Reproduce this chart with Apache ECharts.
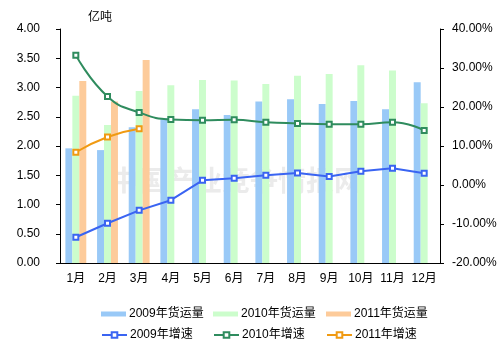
<!DOCTYPE html>
<html><head><meta charset="utf-8">
<script src="https://cdn.jsdelivr.net/npm/echarts@6/dist/echarts.min.js"></script>
<style>html,body{margin:0;padding:0;background:#fff}#c{width:503px;height:359px}</style>
</head><body><div id="c"></div>
<script>
const months = ['1月','2月','3月','4月','5月','6月','7月','8月','9月','10月','11月','12月'];
const vol2009 = [1.96,1.93,2.32,2.48,2.63,2.53,2.76,2.80,2.72,2.77,2.63,3.09];
const vol2010 = [2.86,2.36,2.94,3.04,3.13,3.12,3.06,3.20,3.23,3.38,3.29,2.73];
const vol2011 = [3.11,2.76,3.47,null,null,null,null,null,null,null,null,null];
const g2009 = [-13.4,-9.8,-6.5,-3.9,1.2,1.7,2.5,3.1,2.2,3.5,4.3,3.0];
const g2010 = [33.3,22.7,18.6,16.8,16.6,16.7,16.1,15.8,15.6,15.6,16.1,14.0];
const g2011 = [8.4,12.3,14.4,null,null,null,null,null,null,null,null,null];
const leftTicks = {min:0,max:4,interval:0.5};
const rightTicks = {min:-20,max:40,interval:10};

const font = '"Liberation Sans", "Noto Sans CJK SC", sans-serif';
const cBlue='#99c9f7', cGreen='#ccfdcc', cOrange='#fdcb9a';
const lBlue='#3a64f2', lGreen='#2f8c5e', lOrange='#f09a12';
const chart = echarts.init(document.getElementById('c'));
function bar(name,data,color){return {name,type:'bar',data,yAxisIndex:0,barGap:'0%',barCategoryGap:'34%',itemStyle:{color}};}
function line(name,data,color,smooth){return {name,type:'line',data,yAxisIndex:1,smooth,symbol:'emptyRect',symbolSize:5,showAllSymbol:true,lineStyle:{color,width:2},itemStyle:{color,borderColor:color,borderWidth:1.2},z:5};}
const txt={color:'#000',fontSize:12,fontFamily:font};
function leg(name,left,top,isBar){
  return {data:[name],left,top,itemWidth:25,itemHeight:isBar?5:7,itemGap:0,textStyle:{...txt,padding:[0,0,0,-2]},
    icon: isBar?'rect':undefined, selectedMode:false};
}
chart.setOption({
  animation:false,
  grid:{left:60,right:63,top:29,bottom:96},
  graphic:[{type:'text',left:110,top:166,z:0,style:{text:'中国产业竞争情报网',fontSize:28,fontWeight:'bold',fill:'rgba(190,190,190,0.3)',fontFamily:'"Noto Sans CJK SC"',letterSpacing:4}}],
  legend:[
    leg('2009年货运量',96,303,true),leg('2010年货运量',208,303,true),leg('2011年货运量',321,303,true),
    leg('2009年增速',96,324,false),leg('2010年增速',208,324,false),leg('2011年增速',321,324,false)
  ],
  xAxis:{type:'category',data:months,boundaryGap:true,
    axisLine:{lineStyle:{color:'#000',width:1}},
    axisTick:{inside:true,length:3,alignWithLabel:false,interval:0,lineStyle:{color:'#000'}},
    axisLabel:{...txt,margin:10,interval:0}},
  yAxis:[
    {type:'value',...leftTicks,name:'亿吨',nameLocation:'end',nameGap:5,nameTextStyle:{...txt,align:'left',padding:[0,0,0,28]},
     axisLine:{show:true,lineStyle:{color:'#000'}},axisTick:{show:true,length:4,lineStyle:{color:'#000'}},
     splitLine:{show:false},axisLabel:{...txt,margin:20,formatter:v=>v.toFixed(2)}},
    {type:'value',...rightTicks,position:'right',
     axisLine:{show:true,lineStyle:{color:'#000'}},axisTick:{show:true,length:4,lineStyle:{color:'#000'}},
     splitLine:{show:false},axisLabel:{...txt,margin:12,formatter:v=>v.toFixed(2)+'%'}}
  ],
  series:[
    bar('2009年货运量',vol2009,cBlue),bar('2010年货运量',vol2010,cGreen),bar('2011年货运量',vol2011,cOrange),
    line('2009年增速',g2009,lBlue,false),line('2010年增速',g2010,lGreen,true),line('2011年增速',g2011,lOrange,true)
  ]
});
</script></body></html>
